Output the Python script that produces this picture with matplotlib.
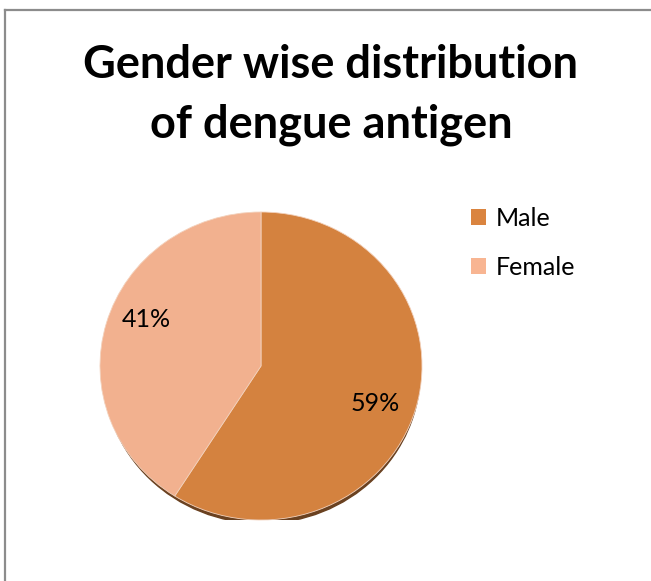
import matplotlib.pyplot as plt
from matplotlib.lines import Line2D
from matplotlib.patches import Ellipse, Patch

labels = ["Male", "Female"]
values = [59, 41]
colors = ["#D4823F", "#F2B18F"]
legend_colors = ["#DA843F", "#F8B592"]
title = "Gender wise distribution\nof dengue antigen"

plt.rcParams["font.family"] = ["Lato", "DejaVu Sans"]

fig = plt.figure(figsize=(6.51, 5.81), dpi=100)

# frame lines of the embedded chart (only top and left are visible)
fig.add_artist(Line2D([5 / 651, 1], [1 - 10 / 581, 1 - 10 / 581], color="#8c8c8c", lw=1.6))
fig.add_artist(Line2D([5 / 651, 5 / 651], [0, 1 - 10 / 581], color="#8c8c8c", lw=1.6))

fig.text(331 / 651, 1 - 95 / 581, title, ha="center", va="center",
         fontsize=32.5, fontweight="bold", linespacing=1.52)

# slightly tilted pie: a bit flatter than wide
ax = fig.add_axes([100 / 651, 61 / 581, 322 / 651, 308 / 581])
# shadow under the pie
ax.add_patch(Ellipse((0.005, -0.032), 1.97, 1.98, color="#6A4120", zorder=0))
wedges, texts, autotexts = ax.pie(values, colors=colors, startangle=90, counterclock=False,
                                  autopct=lambda p: f"{round(p)}%", pctdistance=0.76,
                                  wedgeprops=dict(edgecolor="#f3d2bd", linewidth=0.6),
                                  textprops=dict(fontsize=18, color="black"))
for w in wedges:
    w.set_zorder(1)
# nudge the percentage labels a little, as in the original
x, y = autotexts[0].get_position()
autotexts[0].set_position((x - 0.02, y - 0.03))
x, y = autotexts[1].get_position()
autotexts[1].set_position((x + 0.02, y + 0.09))
ax.set_xlim(-1.0, 1.0)
ax.set_ylim(-1.0, 1.0)
ax.set_aspect("auto")
ax.axis("off")

handles = [Patch(facecolor=c, edgecolor="none") for c in legend_colors]
fig.legend(handles, labels, loc="upper left", bbox_to_anchor=(448 / 651, 1 - 184 / 581),
           frameon=False, fontsize=18, handlelength=0.6, handleheight=0.6,
           handletextpad=0.4, labelspacing=1.05)

fig.savefig("out.png", dpi=100)
